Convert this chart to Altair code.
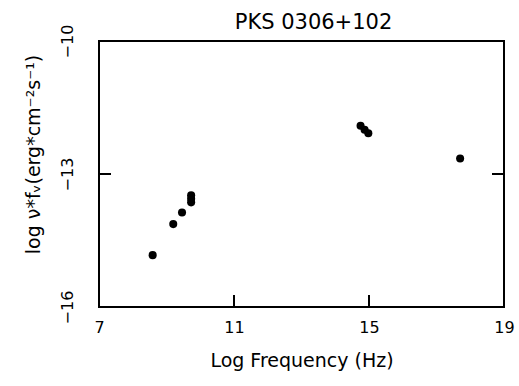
import altair as alt
import pandas as pd

# Data
log_freq = [8.59, 9.20, 9.46, 9.73, 9.73, 9.73, 14.75, 14.87, 14.98, 17.70]
log_nufnu = [-14.83, -14.13, -13.87, -13.48, -13.56, -13.64, -11.91, -12.00, -12.08, -12.65]

x_tick_values = [7, 11, 15, 19]
y_tick_values = [-16, -13, -10]
x_inner_ticks = [11, 15]
y_inner_ticks = [-13]

FONT = "DejaVu Sans"
W, H = 405, 266

df = pd.DataFrame({"x": log_freq, "y": log_nufnu})
xscale = alt.Scale(domain=[7, 19], nice=False, zero=False)
yscale = alt.Scale(domain=[-16, -10], nice=False, zero=False)

x_axis = alt.Axis(values=x_tick_values, title="Log Frequency (Hz)", ticks=False,
                  domain=False, grid=False, labelFont=FONT, labelFontSize=16,
                  labelColor="black", labelPadding=12, labelFlush=False, titleFont=FONT,
                  titleFontSize=19, titleFontWeight="normal", titleColor="black",
                  titlePadding=16)
y_axis = alt.Axis(values=y_tick_values, title="log ν*fᵥ(erg*cm⁻²s⁻¹)", ticks=False,
                  domain=False, grid=False, labelFont=FONT, labelFontSize=16,
                  labelColor="black", labelAngle=270, labelAlign="center",
                  labelBaseline="bottom", labelPadding=24, labelFlush=False, titleFont=FONT,
                  titleFontSize=19, titleFontWeight="normal", titleColor="black",
                  titlePadding=16, titleY=113)

points = alt.Chart(df).mark_circle(size=65, color="black", opacity=1).encode(
    x=alt.X("x:Q", scale=xscale, axis=x_axis),
    y=alt.Y("y:Q", scale=yscale, axis=y_axis),
)

xt = alt.Chart(pd.DataFrame({"x": x_inner_ticks})).mark_rule(color="black", strokeWidth=2).encode(
    x=alt.X("x:Q", scale=xscale, axis=x_axis),
    y=alt.value(H), y2=alt.value(H - 12),
)
ytl = alt.Chart(pd.DataFrame({"y": y_inner_ticks})).mark_rule(color="black", strokeWidth=2).encode(
    y=alt.Y("y:Q", scale=yscale, axis=y_axis),
    x=alt.value(0), x2=alt.value(12),
)
ytr = alt.Chart(pd.DataFrame({"y": y_inner_ticks})).mark_rule(color="black", strokeWidth=2).encode(
    y=alt.Y("y:Q", scale=yscale, axis=y_axis),
    x=alt.value(W - 12), x2=alt.value(W),
)

chart = alt.layer(points, xt, ytl, ytr).properties(
    width=W, height=H,
    background="white",
    title=alt.Title("PKS 0306+102", font=FONT, fontSize=21, fontWeight="normal",
                    color="black", anchor="middle", offset=10, dx=12, dy=19),
    autosize=alt.AutoSizeParams(type="none"),
    padding={"left": 99, "top": 41, "right": 15, "bottom": 79},
).configure_view(stroke="black", strokeWidth=2)

chart.save("out.html", embed_options={"renderer": "svg", "actions": False})
